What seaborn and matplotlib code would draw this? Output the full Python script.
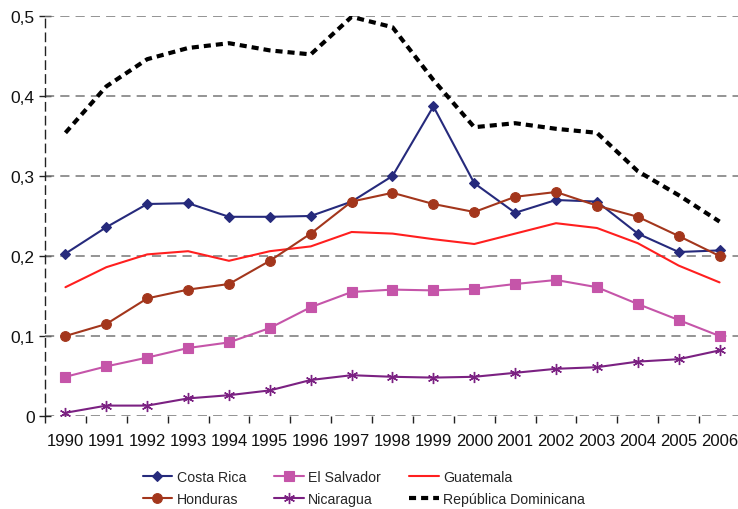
import matplotlib
matplotlib.use("Agg")
import matplotlib.pyplot as plt
from matplotlib.ticker import FixedLocator, FuncFormatter
import seaborn as sns
import numpy as np
import pandas as pd

years = [str(y) for y in range(1990, 2007)]

costa_rica = [0.203, 0.236, 0.265, 0.266, 0.249, 0.249, 0.250, 0.268, 0.300, 0.387,
              0.291, 0.254, 0.270, 0.268, 0.228, 0.205, 0.207]
el_salvador = [0.049, 0.062, 0.073, 0.085, 0.092, 0.110, 0.136, 0.155, 0.158, 0.157,
               0.159, 0.165, 0.170, 0.161, 0.140, 0.120, 0.100]
guatemala = [0.161, 0.186, 0.202, 0.206, 0.194, 0.206, 0.212, 0.230, 0.228, 0.221,
             0.215, 0.228, 0.241, 0.235, 0.216, 0.188, 0.167]
honduras = [0.100, 0.115, 0.147, 0.158, 0.165, 0.194, 0.228, 0.268, 0.279, 0.265,
            0.255, 0.274, 0.280, 0.263, 0.249, 0.225, 0.200]
nicaragua = [0.004, 0.013, 0.013, 0.022, 0.026, 0.032, 0.045, 0.051, 0.049, 0.048,
             0.049, 0.054, 0.059, 0.061, 0.068, 0.071, 0.082]
rep_dominicana = [0.354, 0.412, 0.446, 0.460, 0.466, 0.457, 0.452, 0.499, 0.486, 0.420,
                  0.361, 0.366, 0.359, 0.354, 0.306, 0.276, 0.243]

y_ticks = [0, 0.1, 0.2, 0.3, 0.4, 0.5]

sns.set_theme(style="white")
plt.rcParams["font.family"] = ["Liberation Sans", "DejaVu Sans"]

fig = plt.figure(figsize=(7.38, 5.10), dpi=100)
ax = fig.add_axes([45 / 738, 1 - 417 / 510, 695 / 738, 400 / 510])

x = np.arange(len(years))

series = [
    ("Costa Rica", costa_rica, dict(color="#262a7c", marker="D", markersize=5.5, lw=1.5)),
    ("El Salvador", el_salvador, dict(color="#c555a9", marker="s", markersize=6.5, lw=1.5)),
    ("Guatemala", guatemala, dict(color="#ff1f1f", marker=None, lw=1.5)),
    ("Honduras", honduras, dict(color="#a3361c", marker="o", markersize=7, lw=1.5)),
    ("Nicaragua", nicaragua, dict(color="#7b2182", marker=(6, 2, 0), markersize=8,
                                   lw=1.5, markeredgewidth=1.0)),
]

handles = {}
for name, vals, st in series:
    df = pd.DataFrame({"x": x, "y": vals})
    sns.lineplot(data=df, x="x", y="y", ax=ax, color=st["color"], linewidth=st["lw"],
                 marker=st.get("marker"), markersize=st.get("markersize", 0),
                 markeredgecolor=st["color"], markeredgewidth=st.get("markeredgewidth", 0.8),
                 label=name, legend=False, zorder=3)
    handles[name] = ax.lines[-1]

df_rd = pd.DataFrame({"x": x, "y": rep_dominicana})
sns.lineplot(data=df_rd, x="x", y="y", ax=ax, color="black", linewidth=3.0,
             label="República Dominicana", legend=False, zorder=3)
rd_line = ax.lines[-1]
rd_line.set_linestyle((0, (1.7, 1.2)))
rd_line.set_dash_capstyle("butt")
handles["República Dominicana"] = rd_line

ax.set_xlim(-0.5, len(years) - 0.5)
ax.set_ylim(0, 0.5)
ax.set_xlabel("")
ax.set_ylabel("")

# horizontal grid
for v in y_ticks:
    ax.axhline(v, color="#777777", lw=1.1, ls=(0, (6, 4)), zorder=1)

for s in ["top", "right"]:
    ax.spines[s].set_visible(False)
ax.spines["bottom"].set_visible(False)
ax.spines["left"].set_color("#222222")
ax.spines["left"].set_linewidth(1.0)
ax.spines["left"].set_linestyle((0, (6, 4)))

ax.yaxis.set_major_locator(FixedLocator(y_ticks))
ax.yaxis.set_major_formatter(FuncFormatter(lambda v, p: "0" if v == 0 else f"{v:.1f}".replace(".", ",")))
ax.tick_params(axis="y", which="major", direction="inout", length=9, width=1.0,
               color="#222222", labelsize=12.5, pad=3, left=True)

ax.set_xticks(x)
ax.set_xticklabels(years)
ax.tick_params(axis="x", which="major", length=0, labelsize=12, pad=12)
ax.xaxis.set_minor_locator(FixedLocator(np.arange(-0.5, len(years), 1.0)))
ax.tick_params(axis="x", which="minor", direction="out", length=5, width=1.0,
               color="#222222", bottom=True)
for lab in ax.get_xticklabels() + ax.get_yticklabels():
    lab.set_color("#111111")

order = ["Costa Rica", "Honduras", "El Salvador", "Nicaragua", "Guatemala", "República Dominicana"]
fig.legend([handles[n] for n in order], order, ncol=3, loc="center",
           bbox_to_anchor=(0.493, 0.041), frameon=False, fontsize=10.2,
           handlelength=2.1, handletextpad=0.3, columnspacing=2.0, labelspacing=0.55)

fig.savefig("out.png", dpi=100)
